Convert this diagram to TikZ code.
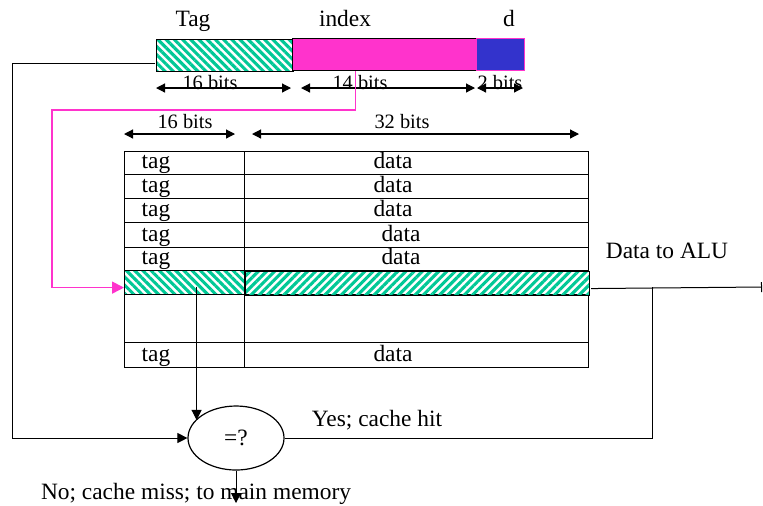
\documentclass[tikz,border=0pt]{standalone}
\usepackage{fontspec}
\setmainfont{Liberation Serif}
\usetikzlibrary{arrows.meta,patterns.meta,shapes.geometric,calc}
\definecolor{hteal}{RGB}{0,200,150}
\definecolor{hmag}{RGB}{255,51,204}
\definecolor{hblue}{RGB}{51,51,204}
\tikzset{
  txt/.style={inner sep=0pt, font=\fontsize{11.7}{14}\selectfont},
  bitstxt/.style={inner sep=0pt, font=\fontsize{10.2}{12}\selectfont},
  tri/.style={-{Triangle[length=5pt,width=5pt]}},
  dbl/.style={{Triangle[length=4.5pt,width=4.5pt]}-{Triangle[length=4.5pt,width=4.5pt]}, line width=0.6pt},
  reg/.style={draw, line width=0.6pt, inner sep=0pt, minimum height=16pt, anchor=north west},
  cell/.style={draw, line width=0.6pt, inner sep=0pt, anchor=north west},
  hNW/.style={pattern={Lines[angle=-45,distance=2.9pt,line width=1.55pt]}, pattern color=hteal},
  hNE/.style={pattern={Lines[angle=45,distance=2.9pt,line width=1.55pt]}, pattern color=hteal},
  wire/.style={line width=0.5pt},
  magwire/.style={draw=hmag, line width=0.8pt, -{Triangle[length=6pt,width=6pt,fill=hmag]}},
}
\begin{document}
\begin{tikzpicture}[x=0.5pt,y=-0.5pt]
\fill[white] (0,0) rectangle (763,505);
\useasboundingbox (0,0) rectangle (763,505);

% address register
\node[reg, hNW, minimum width=68.5pt] (tagf) at (155,38) {};
\node[reg, fill=hmag, minimum width=92pt] (idxf) at (292,38) {};
\node[reg, draw=hmag, fill=hblue, minimum width=24pt] (df) at (476,38) {};
\node[txt, anchor=base] (tagl) at (193,26) {Tag};
\node[txt, anchor=base] (idxl) at (345,26) {index};
\node[txt, anchor=base] (dl) at (509,26) {d};

% bit widths of the address
\coordinate (a1) at (156,88); \coordinate (a2) at (291,88);
\coordinate (a3) at (301,88); \coordinate (a4) at (475,88);
\coordinate (a5) at (477,88); \coordinate (a6) at (523,88);
\draw[dbl] (a1) -- (a2);
\draw[dbl] (a3) -- (a4);
\draw[dbl] (a5) -- (a6);
\node[bitstxt, anchor=base] (b16) at (210,89) {16 bits};
\node[bitstxt, anchor=base] (b14) at (360,89) {14 bits};
\node[bitstxt, anchor=base] (b2) at (500,89) {2 bits};

% bit widths of the table
\coordinate (c1) at (124,134); \coordinate (c2) at (235,134);
\coordinate (c3) at (252,134); \coordinate (c4) at (579,134);
\draw[dbl] (c1) -- (c2);
\draw[dbl] (c3) -- (c4);
\node[bitstxt, anchor=base] (t16) at (185,128) {16 bits};
\node[bitstxt, anchor=base] (t32) at (402,128) {32 bits};

% cache table
\foreach \yt/\hh/\n in {151/23/1,174/24/2,198/24/3,222/25/4,247/23/5,294/48/7,342/25/8} {
  \node[cell, minimum width=60pt, minimum height=\hh*0.5pt] (t\n) at (124,\yt) {};
  \node[cell, minimum width=172pt, minimum height=\hh*0.5pt] (d\n) at (244,\yt) {};
}
\node[cell, hNW, minimum width=60pt, minimum height=12pt] (tH) at (124,270) {};
\node[cell, hNE, minimum width=172pt, minimum height=12pt] (dH) at (244,270) {};
\foreach \n/\b/\dx in {1/168/393, 2/192/393, 3/216/393, 4/241/401, 5/264/401, 8/361/393} {
  \node[txt, anchor=base] (tt\n) at (156,\b) {tag};
  \node[txt, anchor=base] (dt\n) at (\dx,\b) {data};
}

% comparator
\node[draw, ellipse, line width=0.6pt, minimum width=48pt, minimum height=32pt, inner sep=0pt, font=\fontsize{11.7}{14}\selectfont] (eq) at (236,438) {=?};

% connectors
\coordinate (m1) at (52,110);
\draw[magwire] ([xshift=-14.5pt]idxf.south) |- (m1) |- ([yshift=-2.5pt]tH.west);

\coordinate (b1) at (12,438);
\draw[wire, tri] ([yshift=-4pt]tagf.west) -| (b1) -- (eq.west);

\coordinate (dstart) at ([xshift=6pt,yshift=-2pt]tH.center);
\draw[wire, tri] (dstart) -- (dstart |- eq.156);

\coordinate (j) at (652,287);
\draw[wire] (eq.east) -| (j);
\coordinate (alu) at (762,287);
\draw[wire, -{Bar[width=5pt]}] ([yshift=-2.5pt]dH.east) -- (alu);

\coordinate (mm) at (236,503);
\draw[wire, tri] (eq.south) -- (mm);

\node[txt, anchor=base] (alut) at (667,258) {Data to ALU};
\node[txt, anchor=base] (hit) at (377,426) {Yes; cache hit};
\node[txt, anchor=base] (miss) at (196,499) {No; cache miss; to main memory};
\end{tikzpicture}
\end{document}
